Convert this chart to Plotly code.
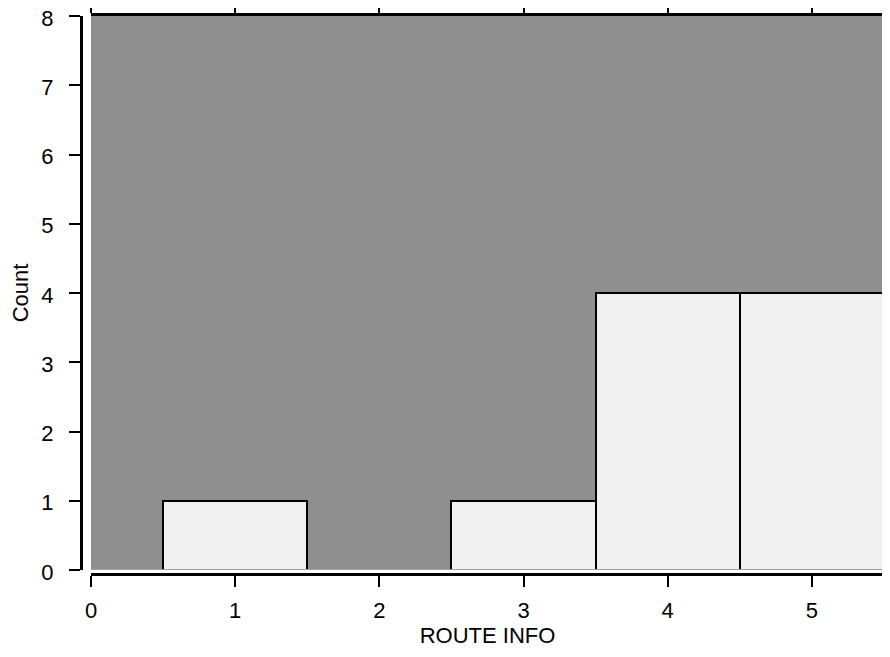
import plotly.graph_objects as go

categories = [1, 2, 3, 4, 5]
counts = [1, 0, 1, 4, 4]
x_tick_vals = [0, 1, 2, 3, 4, 5]
y_tick_vals = [0, 1, 2, 3, 4, 5, 6, 7, 8]
x_range = [0, 5.5]
y_range = [0, 8]

# the page body has an 8px margin, so figure coords = page coords - 8
OFF = 8
W, H = 890 - OFF, 657 - 2 * OFF
ax_left, plot_left, plot_right = 81 - OFF, 91 - OFF, 884 - OFF
plot_top, zero_y, ax_bottom = 16 - OFF, 570 - OFF, 574 - OFF
L, R, T, B = ax_left, W - plot_right, plot_top, H - ax_bottom
pw, ph = W - L - R, H - T - B

fig = go.Figure()
fig.add_trace(go.Bar(
    x=categories, y=counts, width=1,
    marker=dict(color="#f0f0f0", line=dict(color="black", width=2)),
    showlegend=False, hoverinfo="skip",
))
# invisible trace for the offset (labelled) left/bottom axes
fig.add_trace(go.Scatter(x=[None], y=[None], xaxis="x2", yaxis="y2",
                         showlegend=False, hoverinfo="skip"))
fig.add_hline(y=0, line=dict(color="#a0a0a0", width=2))

font = dict(family="Liberation Sans, Arial, sans-serif", size=22, color="black")
common = dict(ticks="outside", ticklen=11, tickwidth=2, tickcolor="black",
              showline=True, linecolor="black", linewidth=3,
              showgrid=False, zeroline=False, automargin=False)
xdom = [(plot_left - L) / pw, 1]
ydom = [(ax_bottom - zero_y) / ph, 1]

fig.update_layout(
    width=W, height=H,
    margin=dict(l=L, r=R, t=T, b=B, pad=0),
    paper_bgcolor="white",
    plot_bgcolor="#8f8f8f",
    font=font,
    bargap=0,
    # main axes: top and right frame with ticks, no labels
    xaxis=dict(
        domain=xdom, anchor="y", side="top",
        range=x_range, tickvals=x_tick_vals, showticklabels=False,
        **common,
    ),
    yaxis=dict(
        domain=ydom, anchor="x", side="right",
        range=y_range, tickvals=y_tick_vals, showticklabels=False,
        **common,
    ),
    # offset axes with labels: bottom and left
    xaxis2=dict(
        overlaying="x", side="bottom", anchor="free", position=0,
        range=x_range, tickvals=x_tick_vals, tickfont=font,
        ticklabelstandoff=5, ticklabeloverflow="allow",
        title=dict(text="ROUTE INFO", font=font, standoff=4),
        **common,
    ),
    yaxis2=dict(
        overlaying="y", side="left", anchor="free", position=0,
        range=y_range, tickvals=y_tick_vals, tickfont=font,
        ticklabelstandoff=11, ticklabelshift=2, ticklabeloverflow="allow",
        title=dict(text="Count", font=font, standoff=12),
        **common,
    ),
)
fig.write_html("out.html")
